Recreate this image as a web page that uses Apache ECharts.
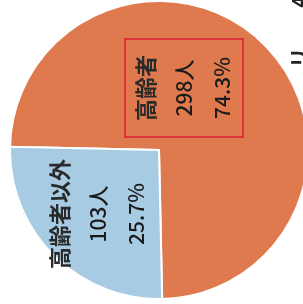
<!DOCTYPE html>
<html>
<head>
<meta charset="utf-8">
<script src="https://cdn.jsdelivr.net/npm/echarts@6/dist/echarts.min.js"></script>
<style>
  html, body { margin: 0; padding: 0; background: #fff; }
  #chart { width: 303px; height: 304px; }
</style>
</head>
<body>
<div id="chart"></div>
<script>
// データ
const names = ['高齢者', '高齢者以外']
const counts = [298, 103]
const colors = ['#DF7A4F', '#A7CBE3']

const chart = echarts.init(document.getElementById('chart'))

// ラベルの中心位置
const labelPos = [[184, 88], [98, 214]]

chart.setOption({
  animation: false,
  graphic: [{
    type: 'text',
    left: 289,
    top: -4,
    rotation: Math.PI / 2,
    style: { text: 'リ　　4', fill: '#222', font: 'bold 20px "Noto Sans CJK JP"' }
  }],
  series: [{
    type: 'pie',
    center: [159, 150],
    radius: 149,
    startAngle: 178.75,
    percentPrecision: 1,
    itemStyle: { borderColor: '#fff', borderWidth: 2 },
    label: {
      show: true,
      position: 'inside',
      rotate: 90,
      formatter: '{n|{b}}\n{v|{c}人}\n{v|{d}%}',
      align: 'center',
      rich: {
        n: {
          fontFamily: '"Noto Sans CJK JP"', fontSize: 22, fontWeight: 'bold',
          lineHeight: 38, color: '#2a2a2a'
        },
        v: {
          fontFamily: '"Noto Sans CJK JP"', fontSize: 21, fontWeight: 500,
          lineHeight: 38, color: '#1a1a1a'
        }
      }
    },
    labelLayout: function (p) {
      const pos = labelPos[p.dataIndex]
      return { x: pos[0], y: pos[1], align: 'center', verticalAlign: 'middle' }
    },
    data: names.map((n, i) => ({
      name: n,
      value: counts[i],
      itemStyle: { color: colors[i] },
      label: i === 0 ? { borderColor: '#E0343C', borderWidth: 2, padding: [2, 16] } : {}
    }))
  }]
})
</script>
</body>
</html>
